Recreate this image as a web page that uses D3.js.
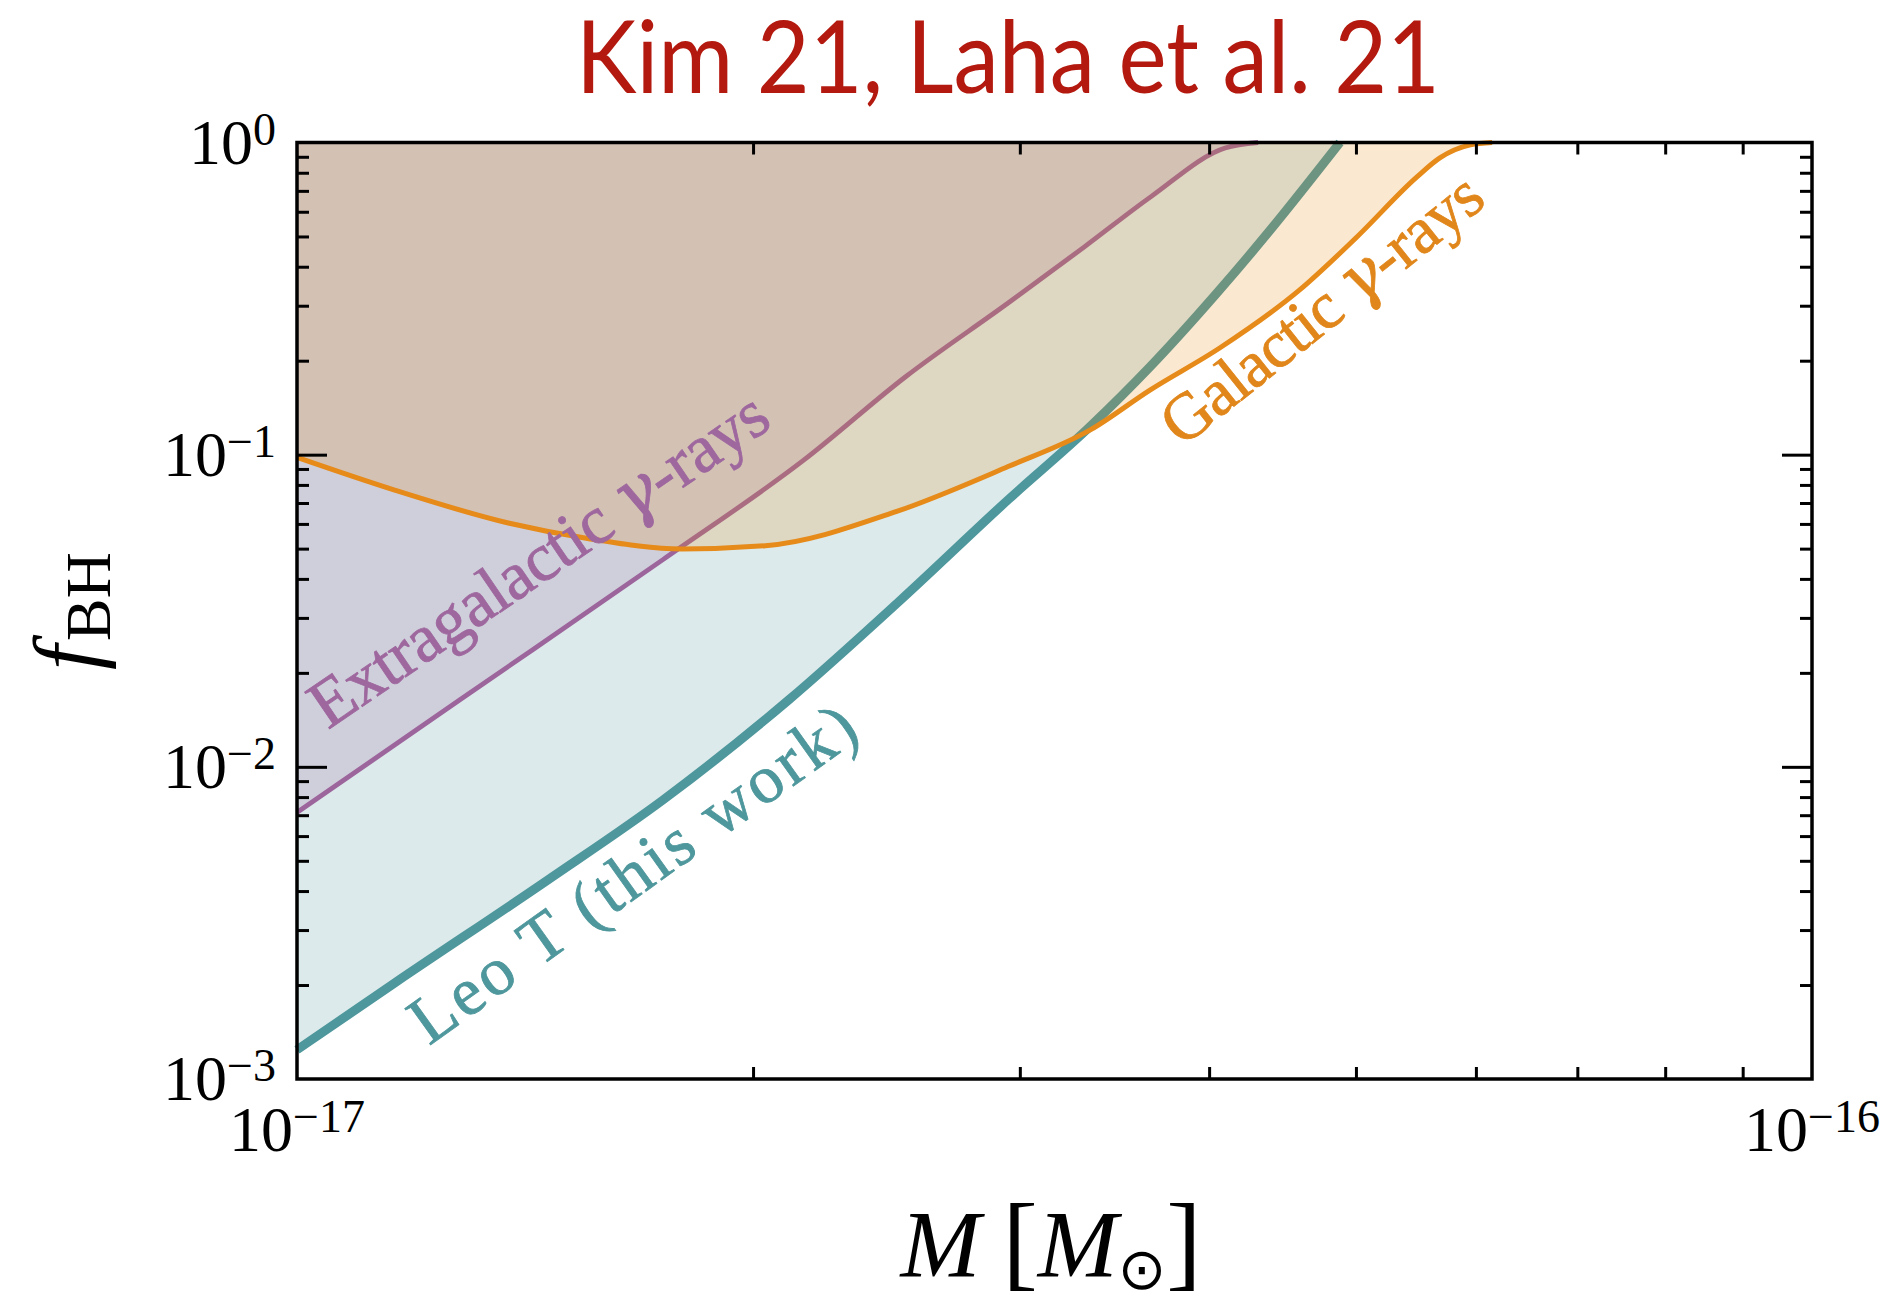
<!DOCTYPE html>
<html>
<head>
<meta charset="utf-8">
<script src="https://cdn.jsdelivr.net/npm/d3@7"></script>
<style>
body { margin: 0; background: #fff; }
text { font-family: "Liberation Serif", "DejaVu Serif", serif; }
</style>
</head>
<body>
<div id="chart"></div>
<script>
// masses in units of 1e-17 Msun
var leoMass = [1.0, 1.16, 1.464, 1.744, 2.112, 2.504, 2.947, 3.338, 3.656, 4.049, 4.375, 4.88];
var leoF    = [1.24e-3, 2.03e-3, 4.34e-3, 7.83e-3, 1.64e-2, 3.43e-2, 7.17e-2, 0.123, 0.191, 0.330, 0.514, 1.0];

var egMass = [1.0, 1.281, 1.744, 2.161, 2.523, 2.947, 3.311, 3.662, 4.098, 4.309];
var egF    = [7.14e-3, 1.64e-2, 4.61e-2, 9.62e-2, 0.178, 0.306, 0.464, 0.671, 0.96, 1.0];

var galMass = [1.0, 1.16, 1.381, 1.552, 1.795, 2.038, 2.488, 2.947, 3.339, 3.656, 4.067, 4.59, 5.009, 5.486, 5.68, 5.95, 6.15];
var galF    = [0.098, 0.077, 0.0603, 0.054, 0.0499, 0.0511, 0.0658, 0.0916, 0.120, 0.161, 0.22, 0.337, 0.499, 0.776, 0.893, 0.983, 1.0];

var yMajor = [1e-3, 1e-2, 1e-1, 1];
var yExp = ["\u22123", "\u22122", "\u22121", "0"];
var xMajor = [1e-17, 1e-16];
var xExp = ["\u221217", "\u221216"];

var width = 1889,
	height = 1303;
var plotL = 297, plotR = 1812, plotT = 142.5, plotB = 1079;

var svg = d3.select("#chart").append("svg")
	.attr("width", width)
	.attr("height", height);

var x = d3.scaleLog().domain([1e-17, 1e-16]).range([plotL, plotR]);
var y = d3.scaleLog().domain([1e-3, 1]).range([plotB, plotT]);

function toPts(mass, f) {
	return mass.map(function(m, i) { return [m * 1e-17, f[i]]; });
}

var area = d3.area()
	.curve(d3.curveMonotoneX)
	.x(function(d) { return x(d[0]); })
	.y0(function(d) { return y(1); })
	.y1(function(d) { return y(d[1]); });
var line = d3.line()
	.curve(d3.curveMonotoneX)
	.x(function(d) { return x(d[0]); })
	.y(function(d) { return y(d[1]); });

// drawn in this order, so later fills tint earlier lines
var series = [
	{ pts: toPts(leoMass, leoF), color: "#4E979C", width: 9 },
	{ pts: toPts(egMass, egF), color: "#9C659C", width: 4.8 },
	{ pts: toPts(galMass, galF), color: "#E68A1A", width: 5 }
];

series.forEach(function(s) {
	svg.append("path")
		.attr("d", area(s.pts))
		.style("fill", s.color)
		.style("fill-opacity", 0.2);
	svg.append("path")
		.attr("d", line(s.pts))
		.style("fill", "none")
		.style("stroke", s.color)
		.style("stroke-width", s.width + "px")
		.style("stroke-linejoin", "round");
});

// minor ticks
var xMinor = d3.range(2, 10).map(function(k) { return k * 1e-17; });
var yMinor = [];
[1e-3, 1e-2, 1e-1].forEach(function(p) {
	d3.range(2, 10).forEach(function(k) { yMinor.push(k * p); });
});

function styleAxis(g) {
	g.select(".domain").remove();
	g.selectAll(".tick line").style("stroke", "#000").style("stroke-width", "3px");
}

svg.append("g").attr("transform", "translate(0," + plotB + ")")
	.call(d3.axisBottom(x).tickValues(xMinor).tickSize(-12).tickFormat(""))
	.call(styleAxis);
svg.append("g").attr("transform", "translate(0," + plotT + ")")
	.call(d3.axisTop(x).tickValues(xMinor).tickSize(-12).tickFormat(""))
	.call(styleAxis);
svg.append("g").attr("transform", "translate(" + plotL + ",0)")
	.call(d3.axisLeft(y).tickValues(yMinor).tickSize(-12).tickFormat(""))
	.call(styleAxis);
svg.append("g").attr("transform", "translate(" + plotR + ",0)")
	.call(d3.axisRight(y).tickValues(yMinor).tickSize(-12).tickFormat(""))
	.call(styleAxis);
svg.append("g").attr("transform", "translate(" + plotL + ",0)")
	.call(d3.axisLeft(y).tickValues([1e-2, 1e-1]).tickSize(-30).tickFormat(""))
	.call(styleAxis);
svg.append("g").attr("transform", "translate(" + plotR + ",0)")
	.call(d3.axisRight(y).tickValues([1e-2, 1e-1]).tickSize(-30).tickFormat(""))
	.call(styleAxis);

svg.append("rect")
	.attr("x", plotL).attr("y", plotT)
	.attr("width", plotR - plotL).attr("height", plotB - plotT)
	.style("fill", "none")
	.style("stroke", "#000")
	.style("stroke-width", "3.5px");

// tick labels
yMajor.forEach(function(v, i) {
	var t = svg.append("text")
		.attr("x", 276).attr("y", y(v) + 21)
		.attr("text-anchor", "end")
		.style("font-size", "64px");
	t.append("tspan").text("10");
	t.append("tspan").attr("dy", -19).style("font-size", "46px").text(yExp[i]);
});
xMajor.forEach(function(v, i) {
	var t = svg.append("text")
		.attr("x", x(v)).attr("y", 1151)
		.attr("text-anchor", "middle")
		.style("font-size", "64px");
	t.append("tspan").text("10");
	t.append("tspan").attr("dy", -19).style("font-size", "46px").text(xExp[i]);
});

// axis titles
var yl = svg.append("text")
	.attr("transform", "translate(97,611) rotate(-90)")
	.attr("text-anchor", "middle")
	.style("font-size", "90px");
yl.append("tspan").style("font-style", "italic").text("f");
yl.append("tspan").attr("dy", 13).attr("dx", 4).style("font-size", "64px").text("BH");

var xl = svg.append("text")
	.attr("x", 1051).attr("y", 1277)
	.attr("text-anchor", "middle")
	.style("font-size", "96px");
xl.append("tspan").style("font-style", "italic").text("M");
xl.append("tspan").attr("dx", 22).style("font-size", "106px").text("[");
xl.append("tspan").style("font-style", "italic").text("M");
xl.append("tspan").attr("dy", 12).style("font-size", "58px").style("font-family", "DejaVu Sans").text("\u2299");
xl.append("tspan").attr("dy", -12).style("font-size", "106px").text("]");

// curve labels
function curveLabel(parts, x0, y0, ang, len, color, size) {
	var t = svg.append("text")
		.attr("transform", "translate(" + x0 + "," + y0 + ") rotate(" + ang + ")")
		.attr("textLength", len)
		.attr("lengthAdjust", "spacing")
		.style("font-size", size + "px")
		.style("fill", color)
		.style("stroke", color)
		.style("stroke-width", "0.8px");
	parts.forEach(function(p) {
		var ts = t.append("tspan").text(p[0]);
		if (p[1]) ts.style("font-style", "italic").style("font-family", "DejaVu Serif");
	});
}
curveLabel([["Extragalactic ", 0], ["\u03B3", 1], ["-rays", 0]], 328, 730, -34.3, 540, "#9E679E", 68);
curveLabel([["Leo T (this work)", 0]], 429, 1046, -35.5, 532, "#4E979C", 68);
curveLabel([["Galactic ", 0], ["\u03B3", 1], ["-rays", 0]], 1182, 448, -38.6, 392, "#E0861A", 66);

// title
svg.append("text")
	.attr("x", 1008).attr("y", 93)
	.attr("text-anchor", "middle")
	.attr("textLength", 864)
	.attr("lengthAdjust", "spacingAndGlyphs")
	.style("font-family", "Lato")
	.style("font-size", "100px")
	.style("fill", "#B3190E")
	.text("Kim 21, Laha et al. 21");
</script>
</body>
</html>
